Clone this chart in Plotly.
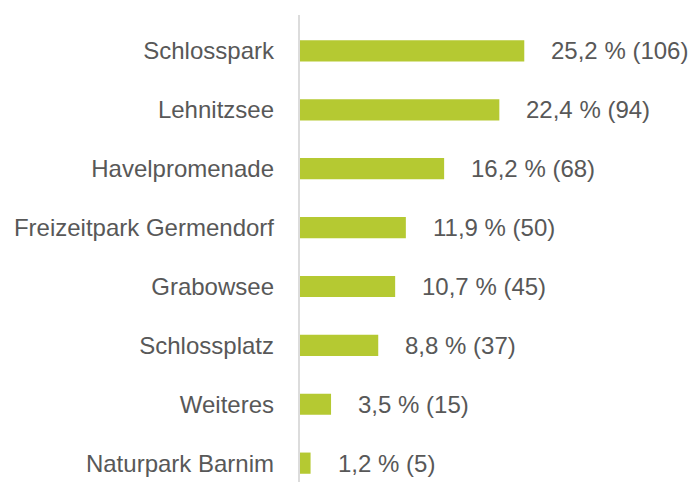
import plotly.graph_objects as go

categories = ["Schlosspark", "Lehnitzsee", "Havelpromenade", "Freizeitpark Germendorf",
              "Grabowsee", "Schlossplatz", "Weiteres", "Naturpark Barnim"]
percent = [25.2, 22.4, 16.2, 11.9, 10.7, 8.8, 3.5, 1.2]
counts = [106, 94, 68, 50, 45, 37, 15, 5]
labels = [f"{p:.1f}".replace(".", ",") + f" % ({c})" for p, c in zip(percent, counts)]

FONT = "Liberation Sans, Arial, sans-serif"
TEXT_COLOR = "#585858"

fig = go.Figure(go.Bar(
    x=percent, y=categories, orientation="h",
    marker=dict(color="#b5c932", line=dict(width=0)),
    width=0.36, hoverinfo="skip",
))

for cat, p, lab in zip(categories, percent, labels):
    fig.add_annotation(x=p, y=cat, text=lab, showarrow=False, xanchor="left",
                       xshift=25, font=dict(family=FONT, size=24, color=TEXT_COLOR))

fig.update_layout(
    width=689, height=474,
    margin=dict(l=291, r=0, t=7, b=0),
    paper_bgcolor="white", plot_bgcolor="white",
    showlegend=False,
    xaxis=dict(range=[-0.1, 44.6], visible=False, fixedrange=True),
    yaxis=dict(categoryorder="array", categoryarray=categories, autorange=False,
               range=[7.32, -0.61], showline=False,
               showgrid=False, zeroline=False, ticks="", ticklabelstandoff=24,
               automargin=False,
               tickfont=dict(family=FONT, size=24, color=TEXT_COLOR)),
    shapes=[dict(type="line", xref="paper", yref="paper", x0=0, x1=0, y0=0, y1=1,
                 line=dict(color="#dcdcdc", width=2))],
)

fig.write_html("out.html")
